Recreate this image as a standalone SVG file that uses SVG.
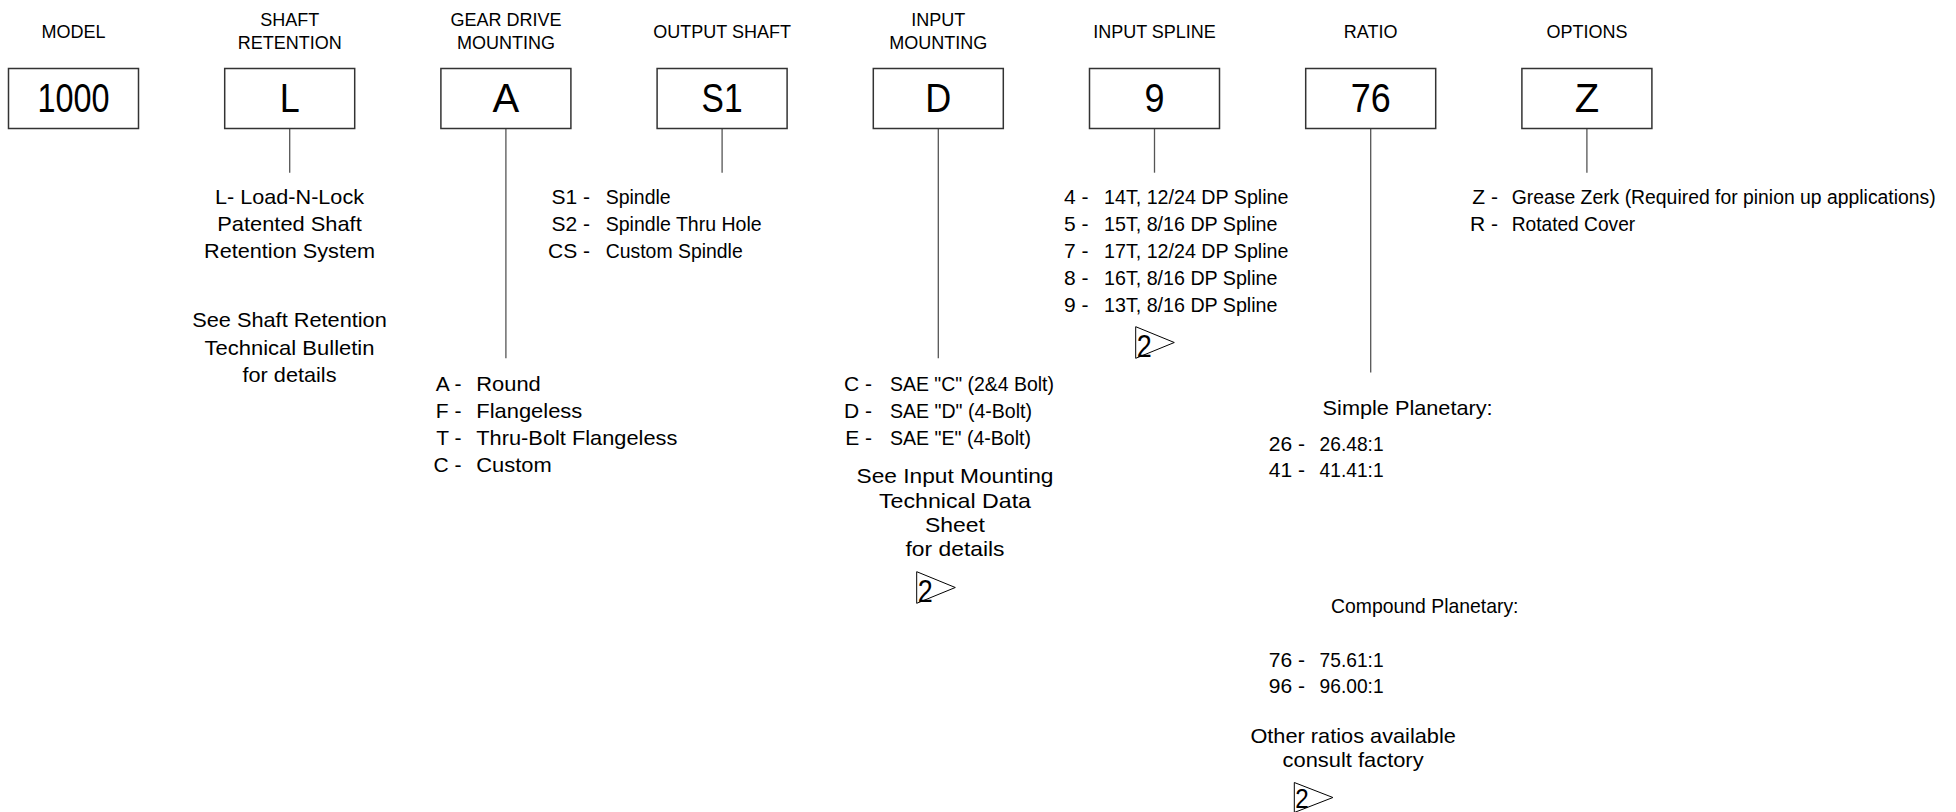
<svg xmlns="http://www.w3.org/2000/svg" width="1956" height="812" viewBox="0 0 1956 812">
<style>
text{font-family:"Liberation Sans",Arial,sans-serif;fill:#000}
.hdr{font-size:18px;text-anchor:middle}
.box{fill:#fff;stroke:#333;stroke-width:1.5}
.bt{font-size:40px;text-anchor:middle}
.t{font-size:21px}
.c{font-size:21px;text-anchor:end}
.m{font-size:21px;text-anchor:middle}
.conn{stroke:#555;stroke-width:1.3;fill:none}
.tri{fill:none;stroke:#000;stroke-width:1}
.n2{font-size:31px}
</style>
<rect width="1956" height="812" fill="#fff"/>

<g id="connectors">
<line class="conn" x1="289.7" y1="128.5" x2="289.7" y2="172.7"/>
<line class="conn" x1="505.9" y1="128.5" x2="505.9" y2="358.3"/>
<line class="conn" x1="722.1" y1="128.5" x2="722.1" y2="172.7"/>
<line class="conn" x1="938.3" y1="128.5" x2="938.3" y2="358.3"/>
<line class="conn" x1="1154.5" y1="128.5" x2="1154.5" y2="172.7"/>
<line class="conn" x1="1370.7" y1="128.5" x2="1370.7" y2="372.5"/>
<line class="conn" x1="1586.9" y1="128.5" x2="1586.9" y2="172.7"/>
</g>

<g id="node-model">
<text class="hdr" x="73.5" y="37.5">MODEL</text>
<rect class="box" x="8.5" y="68.5" width="130" height="60"/>
<text class="bt" x="73.5" y="112" textLength="72" lengthAdjust="spacingAndGlyphs">1000</text>
</g>

<g id="node-shaft-retention">
<text class="hdr" x="289.7" y="26">SHAFT</text>
<text class="hdr" x="289.7" y="49">RETENTION</text>
<rect class="box" x="224.7" y="68.5" width="130" height="60"/>
<text class="bt" x="289.7" y="112" textLength="20" lengthAdjust="spacingAndGlyphs">L</text>
</g>

<g id="node-gear-drive-mounting">
<text class="hdr" x="505.9" y="26">GEAR DRIVE</text>
<text class="hdr" x="505.9" y="49">MOUNTING</text>
<rect class="box" x="440.9" y="68.5" width="130" height="60"/>
<text class="bt" x="505.9" y="112">A</text>
</g>

<g id="node-output-shaft">
<text class="hdr" x="722.1" y="37.5">OUTPUT SHAFT</text>
<rect class="box" x="657.1" y="68.5" width="130" height="60"/>
<text class="bt" x="722.1" y="112" textLength="41" lengthAdjust="spacingAndGlyphs">S1</text>
</g>

<g id="node-input-mounting">
<text class="hdr" x="938.3" y="26">INPUT</text>
<text class="hdr" x="938.3" y="49">MOUNTING</text>
<rect class="box" x="873.3" y="68.5" width="130" height="60"/>
<text class="bt" x="938.3" y="112" textLength="26" lengthAdjust="spacingAndGlyphs">D</text>
</g>

<g id="node-input-spline">
<text class="hdr" x="1154.5" y="37.5">INPUT SPLINE</text>
<rect class="box" x="1089.5" y="68.5" width="130" height="60"/>
<text class="bt" x="1154.5" y="112" textLength="20" lengthAdjust="spacingAndGlyphs">9</text>
</g>

<g id="node-ratio">
<text class="hdr" x="1370.7" y="37.5">RATIO</text>
<rect class="box" x="1305.7" y="68.5" width="130" height="60"/>
<text class="bt" x="1370.7" y="112" textLength="40" lengthAdjust="spacingAndGlyphs">76</text>
</g>

<g id="node-options">
<text class="hdr" x="1586.9" y="37.5">OPTIONS</text>
<rect class="box" x="1521.9" y="68.5" width="130" height="60"/>
<text class="bt" x="1586.9" y="112">Z</text>
</g>

<g id="desc-shaft-retention">
<text class="m" x="289.5" y="203.5" textLength="149" lengthAdjust="spacingAndGlyphs">L- Load-N-Lock</text>
<text class="m" x="289.5" y="231" textLength="144.5" lengthAdjust="spacingAndGlyphs">Patented Shaft</text>
<text class="m" x="289.5" y="258.3" textLength="171" lengthAdjust="spacingAndGlyphs">Retention System</text>
<text class="m" x="289.5" y="327.3" textLength="194.5" lengthAdjust="spacingAndGlyphs">See Shaft Retention</text>
<text class="m" x="289.5" y="354.6" textLength="170" lengthAdjust="spacingAndGlyphs">Technical Bulletin</text>
<text class="m" x="289.5" y="381.9" textLength="94" lengthAdjust="spacingAndGlyphs">for details</text>
</g>

<g id="desc-gear-drive-mounting">
<text class="c" x="461.5" y="390.5">A -</text>
<text class="c" x="461.5" y="417.8">F -</text>
<text class="c" x="461.5" y="445">T -</text>
<text class="c" x="461.5" y="472.2">C -</text>
<text class="t" x="476.3" y="390.5" textLength="64.5" lengthAdjust="spacingAndGlyphs">Round</text>
<text class="t" x="476.3" y="417.8" textLength="106" lengthAdjust="spacingAndGlyphs">Flangeless</text>
<text class="t" x="476.3" y="445" textLength="201" lengthAdjust="spacingAndGlyphs">Thru-Bolt Flangeless</text>
<text class="t" x="476.3" y="472.2" textLength="75.5" lengthAdjust="spacingAndGlyphs">Custom</text>
</g>

<g id="desc-output-shaft">
<text class="c" x="590" y="203.5">S1 -</text>
<text class="c" x="590" y="231">S2 -</text>
<text class="c" x="590" y="258.3">CS -</text>
<text class="t" x="605.7" y="203.5" textLength="65" lengthAdjust="spacingAndGlyphs">Spindle</text>
<text class="t" x="605.7" y="231" textLength="156" lengthAdjust="spacingAndGlyphs">Spindle Thru Hole</text>
<text class="t" x="605.7" y="258.3" textLength="137" lengthAdjust="spacingAndGlyphs">Custom Spindle</text>
</g>

<g id="desc-input-mounting">
<text class="c" x="872" y="390.5">C -</text>
<text class="c" x="872" y="417.8">D -</text>
<text class="c" x="872" y="445">E -</text>
<text class="t" x="890" y="390.5" textLength="164" lengthAdjust="spacingAndGlyphs">SAE "C" (2&amp;4 Bolt)</text>
<text class="t" x="890" y="417.8" textLength="142" lengthAdjust="spacingAndGlyphs">SAE "D" (4-Bolt)</text>
<text class="t" x="890" y="445" textLength="141" lengthAdjust="spacingAndGlyphs">SAE "E" (4-Bolt)</text>
<text class="m" x="955" y="483.3" textLength="197" lengthAdjust="spacingAndGlyphs">See Input Mounting</text>
<text class="m" x="955" y="507.5" textLength="152" lengthAdjust="spacingAndGlyphs">Technical Data</text>
<text class="m" x="955" y="531.5" textLength="60" lengthAdjust="spacingAndGlyphs">Sheet</text>
<text class="m" x="955" y="555.5" textLength="99" lengthAdjust="spacingAndGlyphs">for details</text>
<polygon class="tri" points="916.7,571.7 955.3,587.5 916.7,603.3"/>
<text class="n2" x="917.7" y="602.3" textLength="15" lengthAdjust="spacingAndGlyphs">2</text>
</g>

<g id="desc-input-spline">
<text class="c" x="1088.5" y="203.5">4 -</text>
<text class="c" x="1088.5" y="231">5 -</text>
<text class="c" x="1088.5" y="258.3">7 -</text>
<text class="c" x="1088.5" y="285">8 -</text>
<text class="c" x="1088.5" y="311.7">9 -</text>
<text class="t" x="1104" y="203.5" textLength="184.5" lengthAdjust="spacingAndGlyphs">14T, 12/24 DP Spline</text>
<text class="t" x="1104" y="231" textLength="173.5" lengthAdjust="spacingAndGlyphs">15T, 8/16 DP Spline</text>
<text class="t" x="1104" y="258.3" textLength="184.5" lengthAdjust="spacingAndGlyphs">17T, 12/24 DP Spline</text>
<text class="t" x="1104" y="285" textLength="173.5" lengthAdjust="spacingAndGlyphs">16T, 8/16 DP Spline</text>
<text class="t" x="1104" y="311.7" textLength="173.5" lengthAdjust="spacingAndGlyphs">13T, 8/16 DP Spline</text>
<polygon class="tri" points="1135.7,326.7 1174.3,342.5 1135.7,358.3"/>
<text class="n2" x="1136.7" y="357.3" textLength="15" lengthAdjust="spacingAndGlyphs">2</text>
</g>

<g id="desc-ratio">
<text class="t" x="1322.6" y="415" textLength="170" lengthAdjust="spacingAndGlyphs">Simple Planetary:</text>
<text class="c" x="1305" y="450.7">26 -</text>
<text class="c" x="1305" y="477.3">41 -</text>
<text class="t" x="1319.6" y="450.7" textLength="64" lengthAdjust="spacingAndGlyphs">26.48:1</text>
<text class="t" x="1319.6" y="477.3" textLength="64" lengthAdjust="spacingAndGlyphs">41.41:1</text>
<text class="t" x="1331" y="612.7" textLength="187.5" lengthAdjust="spacingAndGlyphs">Compound Planetary:</text>
<text class="c" x="1305" y="666.7">76 -</text>
<text class="c" x="1305" y="693.3">96 -</text>
<text class="t" x="1319.6" y="666.7" textLength="64" lengthAdjust="spacingAndGlyphs">75.61:1</text>
<text class="t" x="1319.6" y="693.3" textLength="64" lengthAdjust="spacingAndGlyphs">96.00:1</text>
<text class="t" x="1250.4" y="743.3" textLength="205.5" lengthAdjust="spacingAndGlyphs">Other ratios available</text>
<text class="t" x="1282.6" y="766.7" textLength="141" lengthAdjust="spacingAndGlyphs">consult factory</text>
<polygon class="tri" points="1294.3,782.5 1332.9,797.5 1294.3,812.5"/>
<text class="n2" x="1295.3" y="808" style="font-size:27px" textLength="13.5" lengthAdjust="spacingAndGlyphs">2</text>
</g>

<g id="desc-options">
<text class="c" x="1498" y="203.5">Z -</text>
<text class="c" x="1498" y="231">R -</text>
<text class="t" x="1511.7" y="203.5" style="font-size:20px" textLength="424" lengthAdjust="spacingAndGlyphs">Grease Zerk (Required for pinion up applications)</text>
<text class="t" x="1511.7" y="231" textLength="123.5" lengthAdjust="spacingAndGlyphs">Rotated Cover</text>
</g>
</svg>
